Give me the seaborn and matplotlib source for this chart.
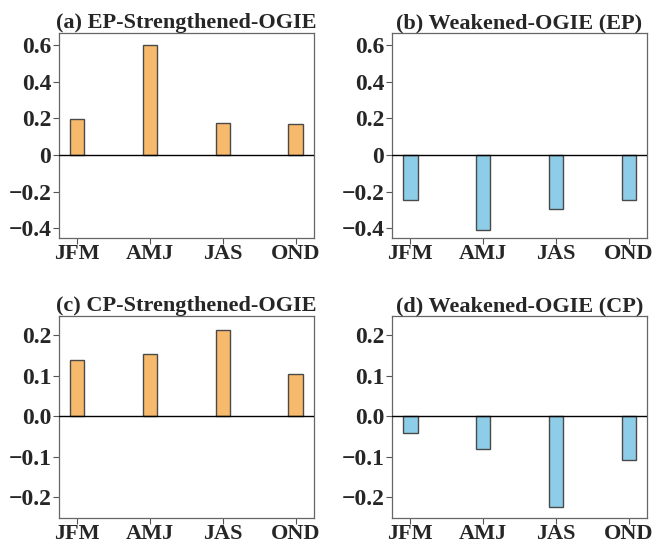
import matplotlib
matplotlib.use("Agg")
import matplotlib.pyplot as plt
import seaborn as sns
import pandas as pd

seasons = ["JFM", "AMJ", "JAS", "OND"]
ep_strong = [0.195, 0.600, 0.176, 0.170]
ep_weak = [-0.245, -0.407, -0.295, -0.245]
cp_strong = [0.140, 0.155, 0.214, 0.105]
cp_weak = [-0.041, -0.080, -0.225, -0.109]

titles = ["(a) EP-Strengthened-OGIE", "(b) Weakened-OGIE (EP)",
          "(c) CP-Strengthened-OGIE", "(d) Weakened-OGIE (CP)"]

ep_ticks = [-0.4, -0.2, 0.0, 0.2, 0.4, 0.6]
ep_ticklabels = ["\u22120.4", "\u22120.2", "0", "0.2", "0.4", "0.6"]
cp_ticks = [-0.2, -0.1, 0.0, 0.1, 0.2]
cp_ticklabels = ["\u22120.2", "\u22120.1", "0.0", "0.1", "0.2"]

orange = "#F7B96B"
blue = "#8ECDE8"

sns.set_theme(style="white")
plt.rcParams["font.family"] = ["Liberation Serif", "DejaVu Serif"]
plt.rcParams["font.weight"] = "bold"

fig = plt.figure(figsize=(6.53, 5.41), dpi=100)

W, H = 653, 541
def box(l, t, r, b):
    return [l / W, 1 - b / H, (r - l) / W, (b - t) / H]

panels = [
    (box(59, 33, 314, 238), ep_strong, orange, (-0.453, 0.665), ep_ticks, ep_ticklabels),
    (box(392, 33, 647, 238), ep_weak, blue, (-0.453, 0.665), ep_ticks, ep_ticklabels),
    (box(59, 316, 314, 518), cp_strong, orange, (-0.252, 0.248), cp_ticks, cp_ticklabels),
    (box(392, 316, 647, 518), cp_weak, blue, (-0.252, 0.248), cp_ticks, cp_ticklabels),
]

for (rect, vals, color, ylim, ticks, ticklabels), title in zip(panels, titles):
    ax = fig.add_axes(rect)
    df = pd.DataFrame({"season": seasons, "value": vals})
    sns.barplot(data=df, x="season", y="value", color=color, width=0.2,
                edgecolor="#4a4a4a", linewidth=1.0, saturation=1, ax=ax)
    ax.axhline(0, color="black", linewidth=1.0, zorder=3)
    ax.set_xlim(-0.25, 3.25)
    ax.set_ylim(*ylim)
    ax.set_yticks(ticks)
    ax.set_yticklabels(ticklabels)
    ax.set_xlabel("")
    ax.set_ylabel("")
    ax.set_title(title, fontsize=16, fontweight="bold", pad=3)
    ax.tick_params(axis="both", which="both", direction="out", length=4,
                   width=0.8, color="#555555", pad=1.5,
                   bottom=True, left=True)
    ax.tick_params(axis="y", labelsize=17)
    ax.tick_params(axis="x", labelsize=16, pad=0.5)
    for lab in ax.get_xticklabels() + ax.get_yticklabels():
        lab.set_fontweight("bold")
    for sp in ax.spines.values():
        sp.set_color("#666666")
        sp.set_linewidth(0.9)

fig.savefig("out.png", dpi=100)
